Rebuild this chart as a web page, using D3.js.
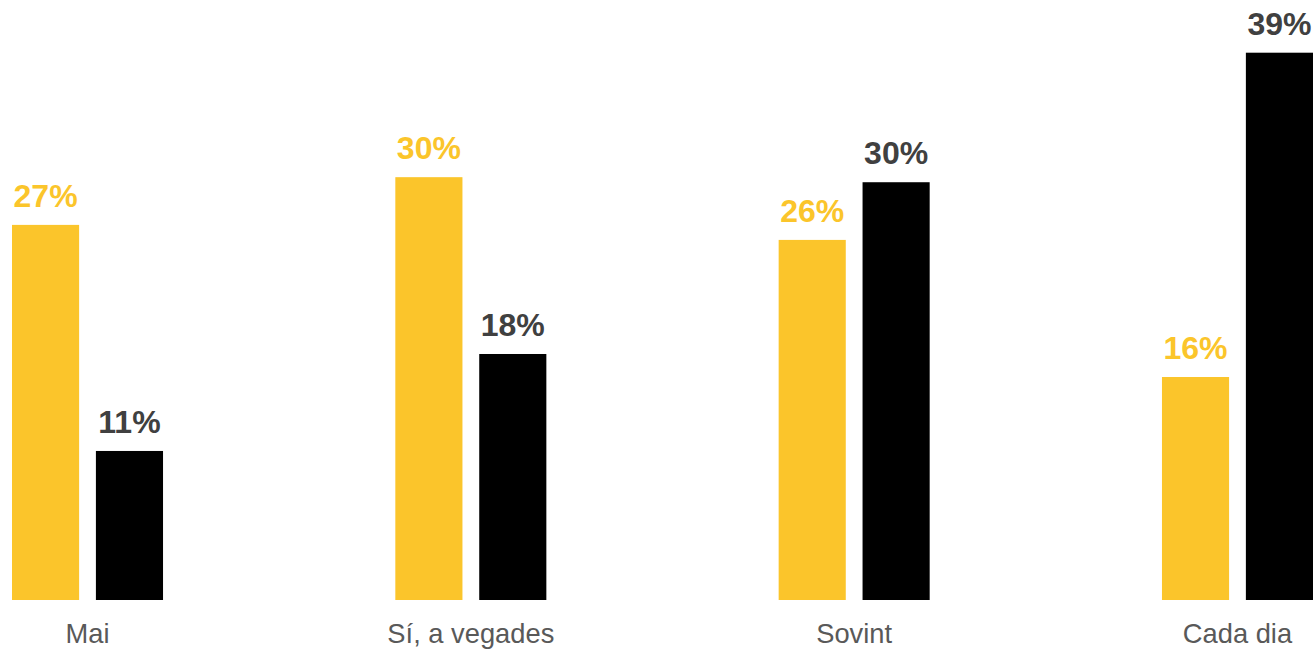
<!DOCTYPE html>
<html>
<head>
<meta charset="utf-8">
<script src="https://cdn.jsdelivr.net/npm/d3@7"></script>
<style>
  html, body { margin: 0; padding: 0; background: #fff; }
  svg { display: block; font-family: "Liberation Sans", Arial, sans-serif; }
</style>
</head>
<body>
<svg id="chart" width="1316" height="649"></svg>
<script>
const categories = ["Mai", "Sí, a vegades", "Sovint", "Cada dia"];
const seriesNames = ["A", "B"];
const seriesA = [26.73, 30.13, 25.66, 15.89];
const seriesB = [10.62, 17.53, 29.77, 39.0];
const barColors = ["#FBC52B", "#000000"];
const labelColors = ["#FBC52B", "#404040"];

const svg = d3.select("#chart");
const baseY = 600;

const x0 = d3.scaleBand().domain(categories).range([12, 1313]).paddingInner(0.606).paddingOuter(0);
const x1 = d3.scaleBand().domain(seriesNames).range([0, x0.bandwidth()]).paddingInner(0.2);
const y = d3.scaleLinear().domain([0, 39.0]).range([baseY, 52.7]);

const data = categories.map((c, i) => ({ cat: c, vals: [seriesA[i], seriesB[i]] }));

const g = svg.selectAll("g.grp").data(data).join("g")
  .attr("class", "grp")
  .attr("transform", d => `translate(${x0(d.cat)},0)`);

g.selectAll("rect").data(d => d.vals.map((v, j) => ({ v, j }))).join("rect")
  .attr("x", d => x1(seriesNames[d.j]))
  .attr("y", d => y(d.v))
  .attr("width", x1.bandwidth())
  .attr("height", d => baseY - y(d.v))
  .attr("fill", d => barColors[d.j]);

g.selectAll("text.val").data(d => d.vals.map((v, j) => ({ v, j }))).join("text")
  .attr("class", "val")
  .attr("x", d => x1(seriesNames[d.j]) + x1.bandwidth() / 2)
  .attr("y", d => y(d.v) - 18)
  .attr("text-anchor", "middle")
  .attr("font-size", "32px")
  .attr("font-weight", "bold")
  .attr("fill", d => labelColors[d.j])
  .text(d => Math.round(d.v) + "%");

svg.selectAll("text.cat").data(categories).join("text")
  .attr("class", "cat")
  .attr("x", d => x0(d) + x0.bandwidth() / 2)
  .attr("y", 643)
  .attr("text-anchor", "middle")
  .attr("font-size", "27.3px")
  .attr("fill", "#595959")
  .text(d => d);
</script>
</body>
</html>
